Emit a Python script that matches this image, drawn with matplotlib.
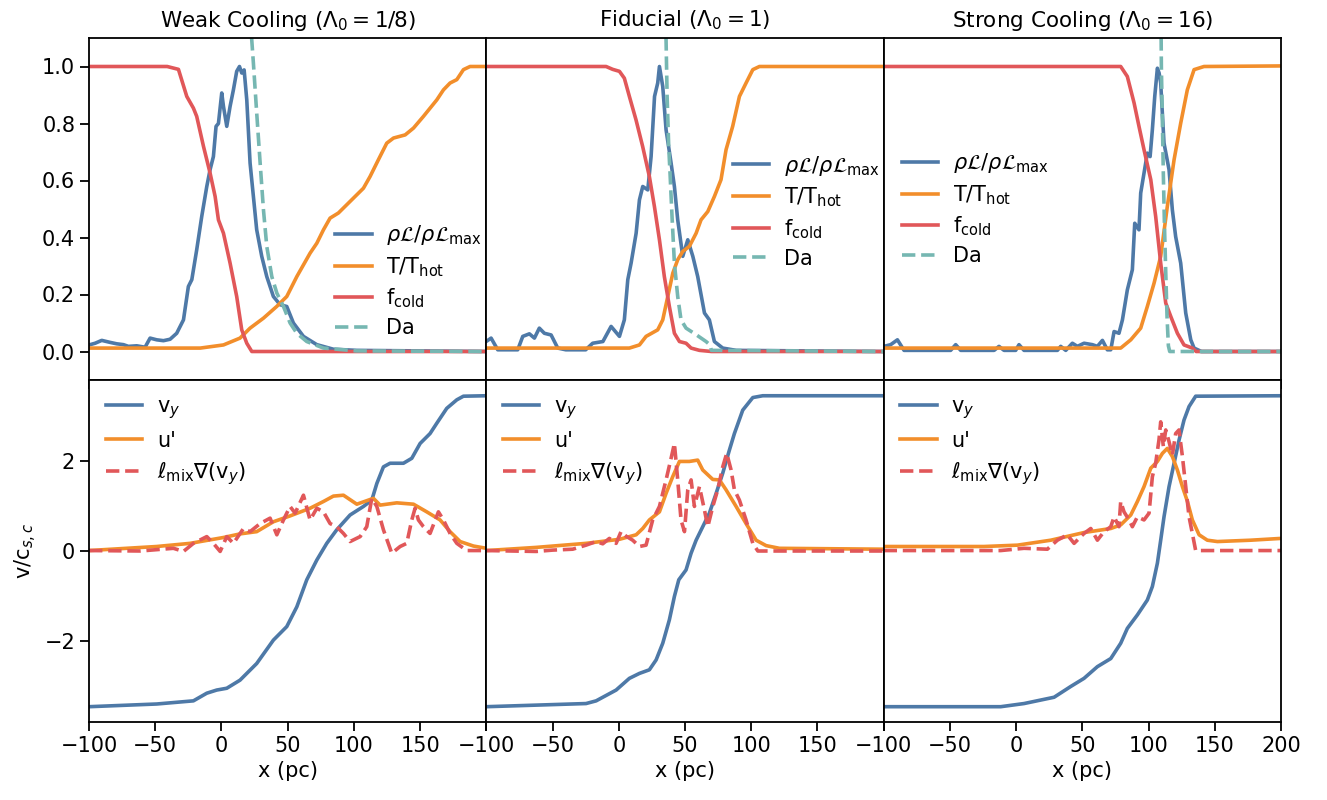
import matplotlib
matplotlib.use("Agg")
import matplotlib.pyplot as plt

# ---------------- data ----------------
titles = [r"Weak Cooling ($\Lambda_0 = 1/8$)", r"Fiducial ($\Lambda_0 = 1$)",
          r"Strong Cooling ($\Lambda_0 = 16$)"]
xticks = [-100, -50, 0, 50, 100, 150, 200]

# --- Weak cooling (top) ---
weak_rho_x = [-99.2, -95.4, -90.4, -84.1, -79.1, -74, -70.3, -64, -57.7, -53.9, -48.9, -43.8, -38.8,
              -33.8, -28.7, -25, -22.4, -18.7, -14.9, -11.1, -8.6, -6.1, -4.1, -2.3, 0.2, 1.5, 4,
              6.5, 9, 11.5, 13.6, 15.3, 17.1, 19.1, 21.6, 24.1, 26.6, 30.4, 34.2, 39.2, 44.3, 49.3,
              54.3, 61.9, 72, 84.5, 102.2, 200]
weak_rho_y = [0.024, 0.029, 0.039, 0.032, 0.027, 0.024, 0.018, 0.02, 0.015, 0.047, 0.041, 0.038, 0.043,
              0.064, 0.111, 0.228, 0.252, 0.357, 0.474, 0.579, 0.638, 0.684, 0.79, 0.8, 0.907, 0.86, 0.79,
              0.86, 0.918, 0.983, 1.0, 0.977, 0.988, 0.883, 0.661, 0.544, 0.427, 0.334, 0.263, 0.193, 0.164, 0.158,
              0.1, 0.053, 0.024, 0.008, 0.004, 0.0]
weak_T_x = [-100, -16, 1.5, 14, 21.6, 31.7, 41.7, 49.3, 56.9, 66.9, 72, 77, 82, 88.3, 99.6, 107.2,
            112.2, 118.5, 124.8, 129.9, 138.7, 145, 152.5, 162.6, 167.6, 172.6, 177.7, 182.7, 187.7, 200]
weak_T_y = [0.012, 0.012, 0.023, 0.047, 0.082, 0.117, 0.158, 0.193, 0.263, 0.345, 0.38, 0.427, 0.468,
            0.486, 0.538, 0.573, 0.614, 0.673, 0.731, 0.749, 0.76, 0.784, 0.825, 0.883, 0.918, 0.942,
            0.954, 0.989, 1.0, 1.0]
weak_fc_x = [-100, -41, -32.5, -26.2, -21.2, -18.7, -13.6, -8.6, -4.8, -2.3, 1.5, 6.5, 11.5, 15.3,
             19.1, 22.9, 200]
weak_fc_y = [1.0, 1.0, 0.99, 0.895, 0.854, 0.825, 0.72, 0.626, 0.544, 0.462, 0.415, 0.31, 0.193, 0.076,
             0.029, 0.0, 0.0]
weak_da_x = [18, 22, 24.1, 26.6, 29.2, 31.7, 34.2, 38, 41.8, 46.8, 51.8, 56.9, 64.4, 77, 102, 200]
weak_da_y = [1.4, 1.15, 1.012, 0.837, 0.661, 0.497, 0.369, 0.263, 0.205, 0.158, 0.1, 0.064, 0.035,
             0.012, 0.002, 0.0]

# --- Fiducial (top) ---
fid_rho_x = [-100.2, -96.4, -91.4, -76.3, -72.5, -67.5, -63.7, -60, -56.2, -51.1, -46.1, -40, -25,
             -19.7, -12, -5.8, 0.5, 4.2, 6.8, 9.3, 13.1, 15.6, 18.1, 21.9, 24.4, 27, 29.4, 30.7, 33.2,
             35.7, 39.5, 42, 44.5, 48.3, 52.1, 55.9, 59.6, 64.7, 68.4, 72.2, 78.5, 88.6, 200]
fid_rho_y = [0.035, 0.047, 0.006, 0.006, 0.053, 0.062, 0.047, 0.082, 0.064, 0.058, 0.012, 0.006, 0.006,
             0.029, 0.035, 0.088, 0.053, 0.111, 0.252, 0.31, 0.415, 0.532, 0.579, 0.567, 0.684, 0.895,
             0.942, 1.0, 0.93, 0.778, 0.661, 0.579, 0.462, 0.334, 0.392, 0.334, 0.263, 0.135, 0.111, 0.035,
             0.012, 0.004, 0.0]
fid_T_x = [-100, 8, 15.6, 20.6, 29.4, 33.2, 37, 40.8, 44.5, 48.3, 53.3, 58.4, 62.1, 67.2, 72.2, 77.2,
           81, 86, 91.1, 96.1, 101.2, 106.2, 200]
fid_T_y = [0.012, 0.012, 0.023, 0.053, 0.076, 0.111, 0.193, 0.275, 0.322, 0.351, 0.369, 0.415, 0.462,
           0.491, 0.544, 0.603, 0.708, 0.79, 0.895, 0.942, 0.989, 1.0, 1.0]
fid_fc_x = [-100, -9.6, -4.6, 0.5, 4.2, 8, 13, 18, 23.1, 26.9, 30.7, 34.4, 38.2, 42, 45.8, 50.8, 54.6,
            60.9, 70, 200]
fid_fc_y = [1.0, 1.0, 0.99, 0.983, 0.959, 0.895, 0.813, 0.72, 0.614, 0.509, 0.392, 0.263, 0.158, 0.064,
            0.035, 0.029, 0.012, 0.004, 0.0, 0.0]
fid_da_x = [35.4, 35.7, 36.5, 37.7, 38.7, 40.2, 42, 44.5, 47, 50.8, 58.4, 65.9, 68.9, 69.9, 200]
fid_da_y = [1.3, 1.094, 0.895, 0.72, 0.626, 0.474, 0.31, 0.193, 0.111, 0.082, 0.059, 0.035, 0.023,
            0.004, 0.0]

# --- Strong cooling (top) ---
str_rho_x = [-99.7, -94.7, -89.6, -84.6, -49.4, -45.6, -41.8, -16.6, -12.9, -9.1, -0.3, 2.2, 6, 31.2,
             33.7, 37.5, 42.5, 46.3, 51.3, 57.6, 61.4, 65.2, 68.9, 71.5, 74, 77.7, 80.3, 84, 87.8, 89.6,
             92.8, 94.1, 96.6, 99.1, 101.2, 102.9, 104.7, 106.7, 108, 109.2, 111.7, 115.5, 118, 120.5,
             124.3, 128.1, 131.9, 134.4, 140, 200]
str_rho_y = [0.018, 0.024, 0.041, 0.004, 0.004, 0.024, 0.004, 0.004, 0.018, 0.004, 0.004, 0.024, 0.004,
             0.004, 0.018, 0.004, 0.029, 0.018, 0.029, 0.024, 0.018, 0.039, 0.006, 0.006, 0.07, 0.064,
             0.111, 0.216, 0.287, 0.45, 0.427, 0.556, 0.626, 0.696, 0.684, 0.778, 0.895, 0.994, 0.977,
             0.942, 0.731, 0.638, 0.497, 0.403, 0.31, 0.135, 0.041, 0.012, 0.0, 0.0]
str_T_x = [-100, 79, 86.6, 94.1, 99.1, 104.2, 109.2, 114.2, 119.3, 124.3, 129.3, 134.4, 141.9, 200]
str_T_y = [0.012, 0.012, 0.041, 0.082, 0.158, 0.24, 0.334, 0.509, 0.673, 0.801, 0.918, 0.989, 1.0, 1.002]
str_fc_x = [-100, 79, 84, 89.1, 92.8, 96.6, 101.7, 105.4, 109.2, 113, 116.8, 121.8, 126.8, 133.1,
            136, 200]
str_fc_y = [1.0, 1.0, 0.965, 0.872, 0.79, 0.708, 0.603, 0.474, 0.31, 0.17, 0.123, 0.064, 0.023, 0.012,
            0.0, 0.0]
str_da_x = [109.2, 109.7, 110.5, 111.2, 112, 113, 114, 115, 116, 200]
str_da_y = [1.3, 1.0, 0.8, 0.62, 0.45, 0.28, 0.12, 0.02, 0.0, 0.0]

# --- Weak cooling (bottom) ---
weak_vy_x = [-100, -48.9, -21.2, -11.1, -3.6, 4, 14, 26.6, 39.2, 49.3, 56.9, 64.4, 72, 79.5, 87, 97.1,
             107.2, 113.5, 117.3, 122.3, 127.3, 137.4, 143.7, 150, 157.5, 162.6, 170.1, 177.7, 182.7, 200]
weak_vy_y = [-3.46, -3.4, -3.33, -3.16, -3.09, -3.05, -2.87, -2.5, -1.98, -1.68, -1.24, -0.64, -0.2,
             0.17, 0.47, 0.8, 0.99, 1.13, 1.5, 1.87, 1.95, 1.95, 2.06, 2.39, 2.61, 2.84, 3.17, 3.36, 3.44,
             3.45]
weak_up_x = [-100, -48.9, -23.7, 1.5, 14, 26.6, 39.2, 51.8, 66.9, 77, 84.5, 92.1, 102.2, 114.7, 119.8,
             132.4, 145, 155, 165.1, 172.6, 180.2, 190.3, 200]
weak_up_y = [0.01, 0.1, 0.17, 0.3, 0.38, 0.43, 0.65, 0.78, 0.95, 1.1, 1.22, 1.24, 1.04, 1.17, 1.02,
             1.07, 1.04, 0.87, 0.69, 0.43, 0.21, 0.11, 0.06]
weak_lm_x = [-100, -61.4, -36.3, -28.7, -21.2, -11.1, -6.1, -1, 4, 9, 16.6, 21.6, 29.2, 36.7, 41.8,
             46.8, 51.8, 55.6, 61.9, 66.9, 72, 77, 82, 87, 92.1, 97.1, 104.7, 109.7, 113.5, 117.3, 122.3,
             128.6, 134.9, 139.9, 143.7, 146.2, 148.7, 152.5, 157.5, 163.8, 167.6, 172.6, 177.7, 185.2,
             200]
weak_lm_y = [0.01, 0.0, 0.06, -0.01, 0.17, 0.32, 0.17, -0.01, 0.32, 0.17, 0.5, 0.43, 0.61, 0.73, 0.36,
             0.69, 0.99, 0.84, 1.24, 0.69, 0.95, 0.87, 0.61, 0.54, 0.39, 0.21, 0.32, 0.54, 1.17, 0.99,
             0.47, -0.05, 0.1, 0.17, 0.69, 0.95, 0.69, 0.54, 0.39, 0.87, 0.69, 0.39, 0.17, 0.01, 0.01]

# --- Fiducial (bottom) ---
fid_vy_x = [-100, -24.7, -17.1, -2, 8, 15.6, 23.1, 28.2, 33.2, 38.2, 42, 45.3, 50.8, 54.6, 58.4, 63.4,
            68.4, 73.5, 78.5, 83.5, 87.3, 93.6, 101.2, 108.7, 200]
fid_vy_y = [-3.46, -3.39, -3.33, -3.09, -2.83, -2.72, -2.64, -2.42, -2.05, -1.53, -1.01, -0.64, -0.42,
            -0.05, 0.24, 0.54, 0.84, 1.28, 1.73, 2.24, 2.61, 3.13, 3.41, 3.45, 3.45]
fid_up_x = [-100, -62.4, -24.7, 0.5, 13.1, 18.1, 23.1, 30.7, 35.7, 40.7, 45.8, 53.3, 59.6, 63.4, 71,
            76, 81, 88.6, 96.1, 103.7, 111.2, 121.3, 200]
fid_up_y = [0.01, 0.08, 0.17, 0.26, 0.36, 0.5, 0.69, 0.87, 1.28, 1.65, 1.99, 1.99, 2.02, 1.8, 1.59,
            1.58, 1.36, 0.99, 0.61, 0.24, 0.12, 0.06, 0.04]
fid_lm_x = [-100, -62.4, -49.9, -34.8, -24.7, -17.1, -12.1, -7.1, -2, 1.7, 5.5, 10.5, 15.6, 20.6, 25.6,
            30.7, 35.7, 39.5, 42, 44.5, 47, 49.6, 52.1, 54.6, 57.1, 60.9, 64.7, 67.2, 71, 74.7, 78.5,
            81.5, 84.8, 87.3, 91.1, 96.1, 101.2, 105, 200]
fid_lm_y = [0.01, -0.01, 0.02, 0.04, 0.13, 0.21, 0.16, 0.28, 0.17, 0.43, 0.33, 0.24, 0.1, 0.13, 0.69,
            0.99, 1.58, 2.06, 2.39, 1.58, 0.69, 0.43, 1.36, 1.58, 0.99, 1.43, 0.91, 0.54, 0.99, 1.36, 1.87,
            2.17, 1.8, 1.36, 1.13, 0.69, 0.17, 0.0, 0.0]

# --- Strong cooling (bottom) ---
str_vy_x = [-100, -11.6, 6, 28.7, 41.3, 51.3, 61.4, 71.5, 79, 84, 91.6, 99.1, 102.9, 106.7, 109.2,
            111.7, 115.5, 119.3, 123.1, 126.8, 130.6, 135.6, 200]
str_vy_y = [-3.46, -3.46, -3.39, -3.25, -3.01, -2.83, -2.57, -2.39, -2.05, -1.72, -1.42, -1.09, -0.79,
            -0.27, 0.24, 0.76, 1.43, 1.95, 2.47, 2.91, 3.21, 3.44, 3.45]
str_up_x = [-100, -24.2, 1, 26.2, 51.3, 71.5, 79, 86.6, 91.6, 96.6, 101.7, 106.7, 110.5, 114.2, 118,
            121.8, 125.6, 129.4, 133.1, 138.2, 144.4, 152, 177.2, 200]
str_up_y = [0.1, 0.1, 0.13, 0.24, 0.41, 0.5, 0.58, 0.8, 1.1, 1.43, 1.84, 1.99, 2.17, 2.28, 2.1, 1.8,
            1.43, 1.1, 0.69, 0.36, 0.24, 0.21, 0.24, 0.28]
str_lm_x = [-100, -11.6, 6, 23.6, 31.2, 38.7, 43.8, 51.3, 56.4, 61.4, 66.4, 71.5, 74, 77.7, 79, 81.5,
            85.3, 87.8, 91.6, 96.6, 100.4, 102.9, 105.4, 107.9, 109.2, 111.2, 113, 115.5, 118, 120.5,
            123, 125.6, 128.1, 130.6, 133.1, 135.6, 200]
str_lm_y = [0.01, 0.01, 0.06, 0.04, 0.24, 0.36, 0.17, 0.39, 0.5, 0.24, 0.43, 0.54, 0.76, 0.54, 1.1,
            0.87, 0.69, 0.54, 0.76, 0.69, 0.84, 1.65, 1.95, 2.47, 2.87, 2.32, 2.69, 2.43, 2.13, 2.61,
            2.69, 2.1, 1.43, 0.76, 0.39, 0.01, 0.01]

top_data = [
    (weak_rho_x, weak_rho_y, weak_T_x, weak_T_y, weak_fc_x, weak_fc_y, weak_da_x, weak_da_y),
    (fid_rho_x, fid_rho_y, fid_T_x, fid_T_y, fid_fc_x, fid_fc_y, fid_da_x, fid_da_y),
    (str_rho_x, str_rho_y, str_T_x, str_T_y, str_fc_x, str_fc_y, str_da_x, str_da_y),
]
bot_data = [
    (weak_vy_x, weak_vy_y, weak_up_x, weak_up_y, weak_lm_x, weak_lm_y),
    (fid_vy_x, fid_vy_y, fid_up_x, fid_up_y, fid_lm_x, fid_lm_y),
    (str_vy_x, str_vy_y, str_up_x, str_up_y, str_lm_x, str_lm_y),
]

top_labels = [r"$\rho\mathcal{L}/\rho\mathcal{L}_{\rm max}$", r"T/T$_{\rm hot}$", r"f$_{\rm cold}$", "Da"]
bot_labels = [r"v$_y$", "u'", r"$\ell_{\rm mix}\nabla$(v$_y$)"]

C_BLUE, C_ORANGE, C_RED, C_TEAL = "#4e79a7", "#f28e2b", "#e15759", "#76b7b2"

# legend centres (axes fraction) for top panels
top_leg = [("center", (0.805, 0.29)), ("center", (0.805, 0.494)), ("center", (0.231, 0.501))]

plt.rcParams["font.family"] = ["DejaVu Sans"]
plt.rcParams["mathtext.fontset"] = "dejavusans"

fig, axes = plt.subplots(2, 3, figsize=(13.27, 8), dpi=100)
fig.subplots_adjust(left=0.0671, right=0.9653, top=0.9525, bottom=0.0975, wspace=0, hspace=0)

LW = 2.6
FS = 15
for j in range(3):
    ax = axes[0, j]
    rx, ry, tx, ty, fx, fy, dx, dy = top_data[j]
    ax.plot(rx, ry, color=C_BLUE, lw=LW, label=top_labels[0])
    ax.plot(tx, ty, color=C_ORANGE, lw=LW, label=top_labels[1])
    ax.plot(fx, fy, color=C_RED, lw=LW, label=top_labels[2])
    ax.plot(dx, dy, color=C_TEAL, lw=LW, ls=(0, (3.7, 1.6)), label=top_labels[3])
    ax.set_ylim(-0.1, 1.1)
    ax.set_title(titles[j], fontsize=FS + 0.5, pad=8)
    loc, anchor = top_leg[j]
    ax.legend(loc=loc, bbox_to_anchor=anchor, frameon=False, fontsize=FS,
              handlelength=1.75, labelspacing=0.38, handletextpad=0.7, borderpad=0.2)

    ax = axes[1, j]
    vx, vy, ux, uy, lx, ly = bot_data[j]
    ax.plot(vx, vy, color=C_BLUE, lw=LW, label=bot_labels[0])
    ax.plot(ux, uy, color=C_ORANGE, lw=LW, label=bot_labels[1])
    ax.plot(lx, ly, color=C_RED, lw=LW, ls=(0, (3.7, 1.6)), label=bot_labels[2])
    ax.set_ylim(-3.8, 3.8)
    ax.set_xlabel("x (pc)", fontsize=FS)
    ax.legend(loc="upper left", frameon=False, fontsize=FS, handlelength=1.75,
              labelspacing=0.45, handletextpad=0.7, borderaxespad=0.5, borderpad=0.3)

for ax in axes.flat:
    ax.set_xlim(-100, 200)
    ax.set_xticks(xticks)
    ax.tick_params(labelsize=FS, length=6.5, width=1.3, direction="out")
    for s in ax.spines.values():
        s.set_linewidth(1.3)

for j in range(3):
    axes[0, j].tick_params(labelbottom=False)
# hide the 200 label on the first two bottom panels (it coincides with the next panel's -100)
for j in (0, 1):
    axes[1, j].set_xticklabels([str(t).replace("-", "\u2212") for t in xticks[:-1]] + [""])

axes[0, 0].set_yticks([0.0, 0.2, 0.4, 0.6, 0.8, 1.0])
axes[1, 0].set_yticks([-2, 0, 2])
for j in (1, 2):
    axes[0, j].set_yticks([])
    axes[1, j].set_yticks([])
axes[1, 0].set_ylabel(r"v/c$_{s,c}$", fontsize=FS)

fig.savefig("out.png", dpi=100)
